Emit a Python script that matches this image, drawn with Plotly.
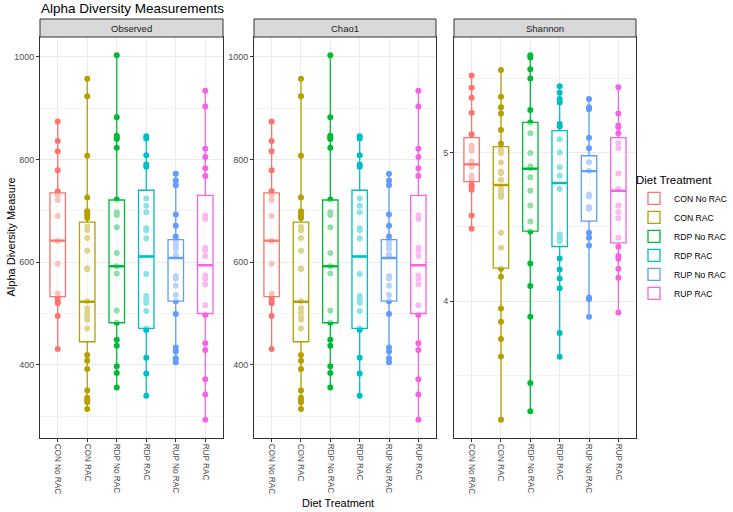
import plotly.graph_objects as go

# ---------------- data ----------------
categories = ["CON No RAC", "CON RAC", "RDP No RAC", "RDP RAC", "RUP No RAC", "RUP RAC"]
colors = ["#F8766D", "#B79F00", "#00BA38", "#00BFC4", "#619CFF", "#F564E3"]
facets = ["Observed", "Chao1", "Shannon"]

obs_con_norac = [874, 836, 816, 779, 738, 731, 721, 690, 641, 597, 539, 530, 524, 520, 495, 431]
obs_con_rac = [957, 923, 807, 726, 699, 696, 691, 686, 669, 662, 647, 622, 588, 586, 524, 510,
               502, 493, 488, 471, 419, 408, 392, 350, 336, 332, 327, 314]
obs_rdp_norac = [1003, 882, 846, 843, 840, 823, 722, 697, 692, 668, 618, 592, 578, 506, 482,
                 449, 437, 397, 384, 356]
obs_rdp_rac = [845, 841, 808, 790, 786, 724, 710, 697, 666, 662, 646, 577, 534, 528, 521, 505,
               471, 468, 414, 383, 340]
obs_rup_norac = [772, 759, 750, 693, 671, 650, 639, 633, 626, 615, 612, 573, 568, 554, 536, 524,
                 499, 434, 426, 413, 405]
obs_rup_rac = [934, 903, 821, 805, 783, 768, 691, 684, 628, 623, 612, 574, 567, 557, 516, 497,
               442, 429, 372, 342, 293]

# Chao1 panel shows the same values as Observed
chao_con_norac = list(obs_con_norac)
chao_con_rac = list(obs_con_rac)
chao_rdp_norac = list(obs_rdp_norac)
chao_rdp_rac = list(obs_rdp_rac)
chao_rup_norac = list(obs_rup_norac)
chao_rup_rac = list(obs_rup_rac)

sha_con_norac = [5.518, 5.435, 5.368, 5.268, 5.123, 5.045, 5.029, 5.011, 4.940, 4.917, 4.906,
                 4.844, 4.828, 4.812, 4.779, 4.768, 4.750, 4.576, 4.487]
sha_con_rac = [5.554, 5.375, 5.304, 5.263, 5.152, 5.058, 5.018, 4.996, 4.933, 4.873, 4.862,
               4.817, 4.761, 4.739, 4.717, 4.701, 4.460, 4.359, 4.219, 4.165, 3.951, 3.862,
               3.746, 3.629, 3.203]
sha_rdp_norac = [5.654, 5.638, 5.560, 5.498, 5.286, 5.201, 5.129, 4.996, 4.906, 4.895, 4.833,
                 4.743, 4.643, 4.536, 4.469, 4.254, 4.103, 3.895, 3.451, 3.261]
sha_rdp_rac = [5.446, 5.402, 5.359, 5.337, 5.192, 5.174, 5.089, 5.000, 4.900, 4.844, 4.754,
               4.449, 4.433, 4.415, 4.404, 4.288, 4.214, 4.152, 4.087, 3.786, 3.627]
sha_rup_norac = [5.359, 5.304, 5.290, 5.100, 5.029, 4.935, 4.877, 4.717, 4.705, 4.634, 4.621,
                 4.460, 4.426, 4.375, 4.025, 4.013, 3.895]
sha_rup_rac = [5.438, 5.263, 5.181, 5.170, 5.129, 5.063, 5.029, 4.859, 4.754, 4.643, 4.600,
               4.558, 4.426, 4.366, 4.304, 4.286, 4.219, 4.158, 3.924]

obs_q1 = [533, 445, 482, 471, 524, 500]
obs_median = [642, 523, 592, 611, 608, 594]
obs_q3 = [735, 678, 721, 740, 644, 730]

sha_q1 = [4.804, 4.223, 4.471, 4.368, 4.538, 4.393]
sha_median = [4.920, 4.781, 4.891, 4.795, 4.875, 4.743]
sha_q3 = [5.100, 5.040, 5.203, 5.147, 4.978, 5.100]

y_ticks = {"Observed": [400, 600, 800, 1000], "Chao1": [400, 600, 800, 1000], "Shannon": [4, 5]}

# ---------------- assembly ----------------
facet_points = {
    "Observed": [obs_con_norac, obs_con_rac, obs_rdp_norac, obs_rdp_rac, obs_rup_norac, obs_rup_rac],
    "Chao1": [chao_con_norac, chao_con_rac, chao_rdp_norac, chao_rdp_rac, chao_rup_norac, chao_rup_rac],
    "Shannon": [sha_con_norac, sha_con_rac, sha_rdp_norac, sha_rdp_rac, sha_rup_norac, sha_rup_rac],
}
facet_stats = {
    "Observed": (obs_q1, obs_median, obs_q3),
    "Chao1": (obs_q1, obs_median, obs_q3),
    "Shannon": (sha_q1, sha_median, sha_q3),
}

W, H = 733, 512
panel_x = [(40, 223), (254, 436), (454, 636)]
panel_top, panel_bot = 37, 438
strip_top = 19

FONT = "Liberation Sans, Arial, sans-serif"
fig = go.Figure()

for fi, facet in enumerate(facets):
    sfx = "" if fi == 0 else str(fi + 1)
    xa, ya = "x" + sfx, "y" + sfx
    q1s, meds, q3s = facet_stats[facet]
    for gi, cat in enumerate(categories):
        vals = facet_points[facet][gi]
        col = colors[gi]
        # sample points (drawn first, so the translucent box lightens those inside)
        fig.add_trace(go.Box(
            x=[cat] * len(vals), y=vals, xaxis=xa, yaxis=ya,
            boxpoints="all", jitter=0, pointpos=0,
            marker=dict(color=col, size=6, opacity=1),
            line=dict(width=0), fillcolor="rgba(0,0,0,0)",
            showlegend=False, hoverinfo="skip", whiskerwidth=0,
        ))
        # box with whiskers
        fig.add_trace(go.Box(
            x=[cat], q1=[q1s[gi]], median=[meds[gi]], q3=[q3s[gi]],
            lowerfence=[min(vals)], upperfence=[max(vals)],
            xaxis=xa, yaxis=ya, name=cat, legendgroup=cat,
            showlegend=(fi == 0), boxpoints=False, whiskerwidth=0,
            line=dict(color=col, width=1.3), fillcolor="rgba(255,255,255,0.55)",
            hoverinfo="skip",
        ))
        # thicker median
        fig.add_trace(go.Box(
            x=[cat], q1=[meds[gi]], median=[meds[gi]], q3=[meds[gi]],
            lowerfence=[meds[gi]], upperfence=[meds[gi]],
            xaxis=xa, yaxis=ya, showlegend=False, boxpoints=False, whiskerwidth=0,
            line=dict(color=col, width=2.4), fillcolor="rgba(0,0,0,0)",
            hoverinfo="skip",
        ))

    allv = [v for g in facet_points[facet] for v in g]
    lo, hi = min(allv), max(allv)
    pad = (hi - lo) * 0.05
    x0, x1 = panel_x[fi]
    dom_x = [x0 / W, x1 / W]
    dom_y = [1 - panel_bot / H, 1 - panel_top / H]
    minor_step = (y_ticks[facet][1] - y_ticks[facet][0]) / 2
    axis_common = dict(showline=True, mirror=True, linecolor="#333333", linewidth=1,
                       ticks="outside", ticklen=3, tickcolor="#333333", tickwidth=1,
                       showgrid=True, gridcolor="#EBEBEB", gridwidth=1, zeroline=False,
                       automargin=False)
    fig.update_layout(**{
        "xaxis" + sfx: dict(domain=dom_x, anchor=ya, type="category",
                            categoryorder="array", categoryarray=categories,
                            range=[-0.6, len(categories) - 0.4], tickangle=90,
                            tickfont=dict(family=FONT, size=8.2, color="#4D4D4D"),
                            **axis_common),
        "yaxis" + sfx: dict(domain=dom_y, anchor=xa, range=[lo - pad, hi + pad],
                            tickvals=y_ticks[facet],
                            tickfont=dict(family=FONT, size=9, color="#4D4D4D"),
                            minor=dict(showgrid=True, gridcolor="#F3F3F3", gridwidth=0.6,
                                       dtick=minor_step, tick0=0, ticks=""),
                            **axis_common),
    })
    # strip
    fig.add_shape(type="rect", xref="paper", yref="paper",
                  x0=x0 / W, x1=x1 / W, y0=1 - panel_top / H, y1=1 - strip_top / H,
                  fillcolor="#D9D9D9", line=dict(color="#333333", width=1), layer="above")
    fig.add_annotation(x=(x0 + x1) / 2 / W, y=1 - (panel_top + strip_top) / 2 / H,
                       xref="paper", yref="paper", text=facet, showarrow=False,
                       font=dict(family=FONT, size=9.5, color="#1A1A1A"),
                       xanchor="center", yanchor="middle")

# titles
fig.add_annotation(x=39 / W, y=1 - 8 / H, xref="paper", yref="paper",
                   text="Alpha Diversity Measurements", showarrow=False,
                   font=dict(family=FONT, size=13.5, color="black"),
                   xanchor="left", yanchor="middle")
fig.add_annotation(x=10 / W, y=1 - (panel_top + panel_bot) / 2 / H, xref="paper", yref="paper",
                   text="Alpha Diversity Measure", showarrow=False, textangle=-90,
                   font=dict(family=FONT, size=11, color="black"),
                   xanchor="center", yanchor="middle")
fig.add_annotation(x=338 / W, y=1 - 503 / H, xref="paper", yref="paper",
                   text="Diet Treatment", showarrow=False,
                   font=dict(family=FONT, size=11, color="black"),
                   xanchor="center", yanchor="middle")

fig.update_layout(
    width=W, height=H,
    margin=dict(l=0, r=0, t=0, b=0),
    paper_bgcolor="white", plot_bgcolor="white",
    boxmode="overlay", boxgap=0.25,
    font=dict(family=FONT),
    legend=dict(x=1, y=1 - 169 / H, xanchor="right", yanchor="top",
                title=dict(text="Diet Treatment", font=dict(family=FONT, size=11.5, color="black")),
                font=dict(family=FONT, size=8.6, color="black"),
                bgcolor="rgba(0,0,0,0)", tracegroupgap=0, itemwidth=30),
    hovermode=False,
)

fig.write_html("out.html")
